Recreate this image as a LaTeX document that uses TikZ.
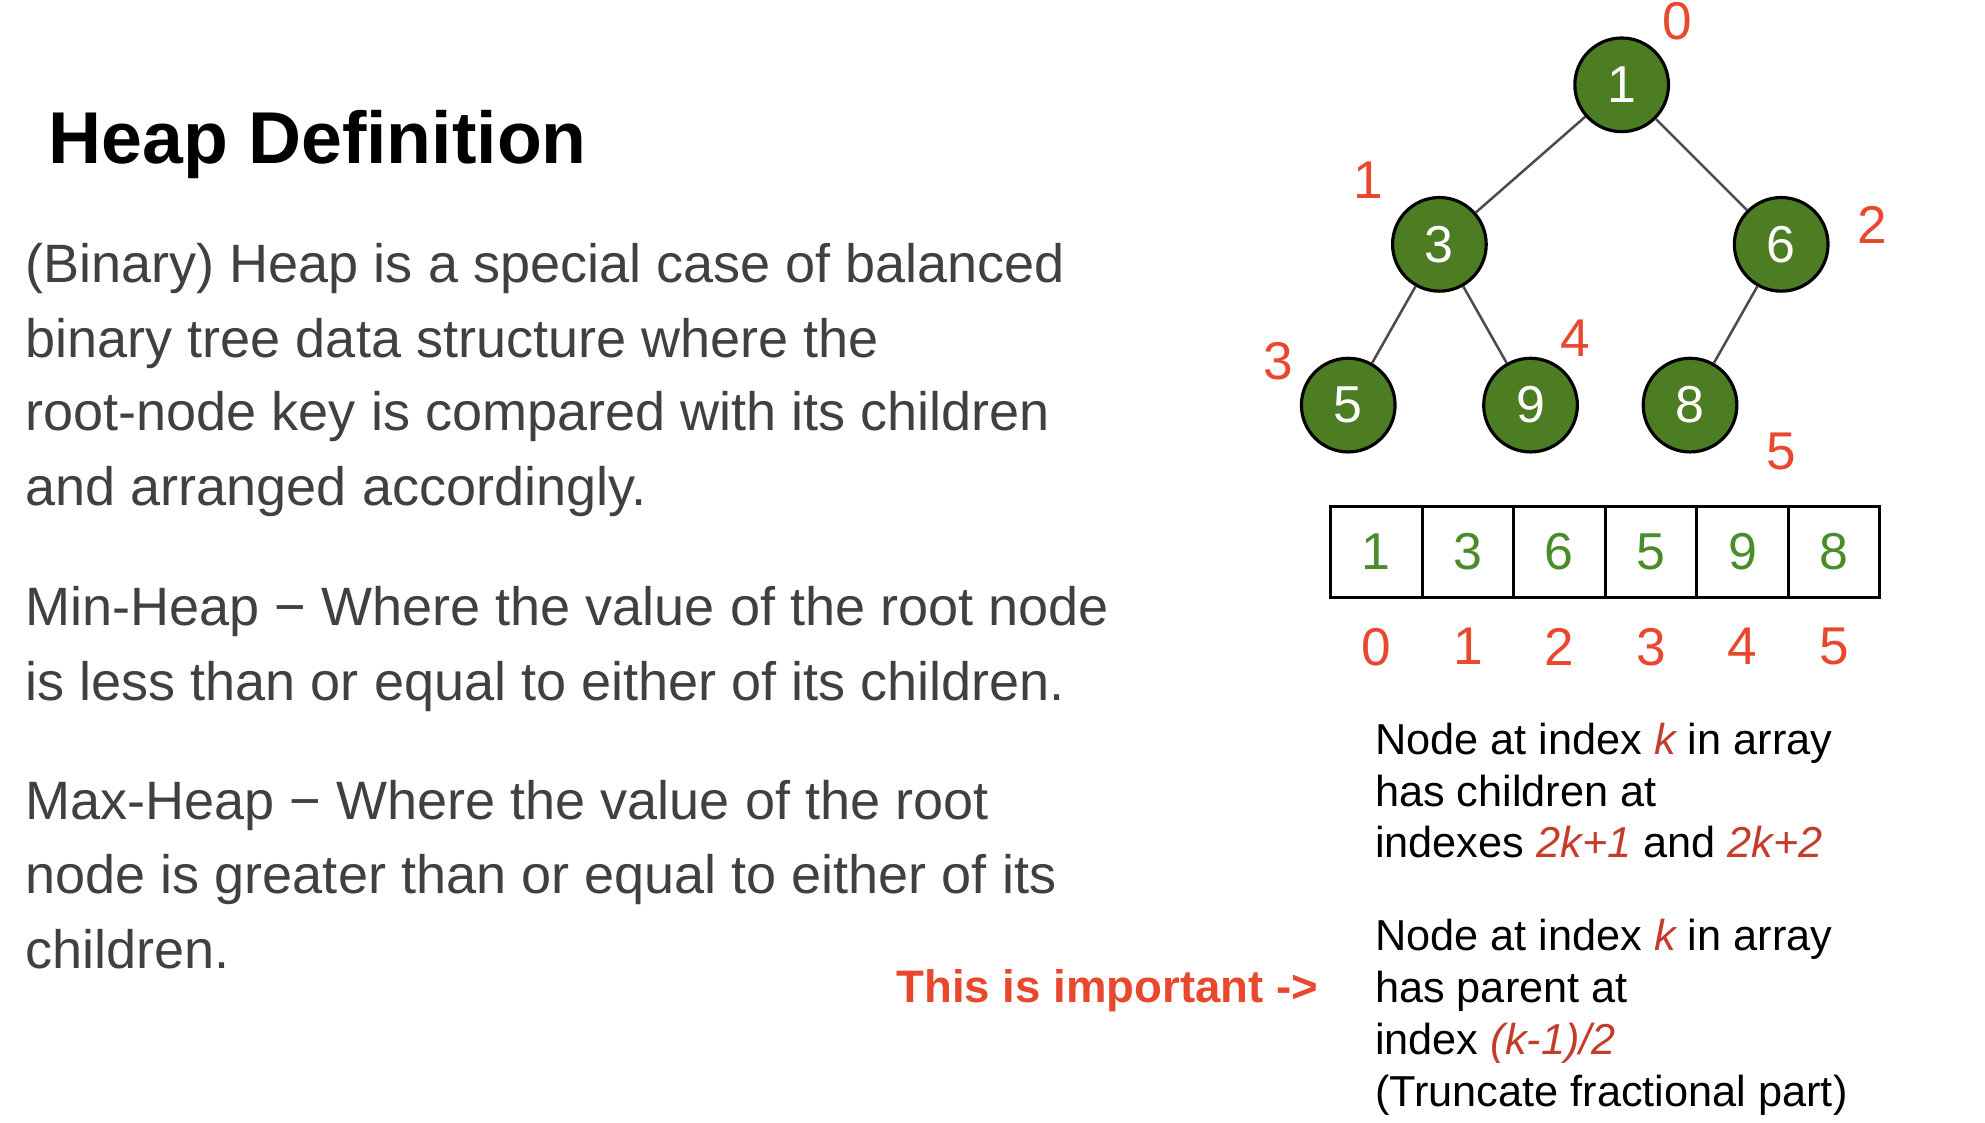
\documentclass[tikz,border=0pt]{standalone}
\usepackage{fontspec}
\setmainfont{Liberation Sans}
\usepackage{tikz}
\usetikzlibrary{positioning}
\definecolor{heapgreen}{RGB}{76,125,35}
\definecolor{cellgreen}{RGB}{74,140,42}
\definecolor{idxred}{RGB}{232,72,46}
\definecolor{formred}{RGB}{196,60,44}
\definecolor{bodygray}{RGB}{64,64,64}
\tikzstyle{heap} = [circle, draw=black, line width=2.5pt, fill=heapgreen, minimum size=74pt, inner sep=0pt, text=white, font=\fontsize{41}{41}\selectfont]
\tikzstyle{cell} = [rectangle, draw=black, line width=2.5pt, minimum width=72.3pt, minimum height=72pt, inner sep=0pt, outer sep=0pt, text=cellgreen, font=\fontsize{41}{41}\selectfont]
\tikzstyle{idx} = [text=idxred, inner sep=0pt, font=\fontsize{42}{42}\selectfont]
\tikzstyle{body} = [anchor=base west, inner sep=0pt, text=bodygray, font=\fontsize{42.7}{50}\selectfont]
\tikzstyle{note} = [anchor=base west, inner sep=0pt, font=\fontsize{34.2}{41}\selectfont]
\tikzset{edge/.style = {
    line width=2pt,
    draw=black!70,
  }
}
\newcommand{\fm}[1]{\textcolor{formred}{\itshape #1}}

\begin{document}
\begin{tikzpicture}[x=1pt, y=-1pt]
            \useasboundingbox (0,0) rectangle (1568,887);
            % title and definitions
            \node[anchor=base west, inner sep=0pt, font=\bfseries\fontsize{58}{58}\selectfont] (title) at (38,129) {Heap Definition};
            \node[body] (b1) at (20,223) {(Binary) Heap is a special case of balanced};
            \node[body] (b2) at (20,282) {binary tree data structure where the};
            \node[body] (b3) at (20,340) {root-node key is compared with its children};
            \node[body] (b4) at (20,399) {and arranged accordingly.};
            \node[body] (m1) at (20,494) {Min-Heap − Where the value of the root node};
            \node[body] (m2) at (20,553) {is less than or equal to either of its children.};
            \node[body] (x1) at (20,647) {Max-Heap − Where the value of the root};
            \node[body] (x2) at (20,706) {node is greater than or equal to either of its};
            \node[body] (x3) at (20,765) {children.};

            % tree
            \node[heap] (n0) at (1281,67) {1};
            \node[heap] (n1) at (1137,193) {3};
            \node[heap] (n2) at (1407,193) {6};
            \node[heap] (n3) at (1065,320) {5};
            \node[heap] (n4) at (1209,320) {9};
            \node[heap] (n5) at (1335,320) {8};

            \node[idx] (i0) at (1325,17) {0};
            \node[idx] (i1) at (1081,142) {1};
            \node[idx] (i2) at (1479,178) {2};
            \node[idx] (i3) at (1010,285) {3};
            \node[idx] (i4) at (1244,267) {4};
            \node[idx] (i5) at (1407,357) {5};

            %edges
            \draw[edge] (n0) to (n1);
            \draw[edge] (n0) to (n2);
            \draw[edge] (n1) to (n3);
            \draw[edge] (n1) to (n4);
            \draw[edge] (n2) to (n5);

            % array
            \node[cell] (c0) at (1087.2,436) {1};
            \node[cell, right=0pt of c0] (c1) {3};
            \node[cell, right=0pt of c1] (c2) {6};
            \node[cell, right=0pt of c2] (c3) {5};
            \node[cell, right=0pt of c3] (c4) {9};
            \node[cell, right=0pt of c4] (c5) {8};

            \node[idx, below=24pt of c0] (a0) {0};
            \node[idx, below=24pt of c1] (a1) {1};
            \node[idx, below=24pt of c2] (a2) {2};
            \node[idx, below=24pt of c3] (a3) {3};
            \node[idx, below=24pt of c4] (a4) {4};
            \node[idx, below=24pt of c5] (a5) {5};

            % index rules
            \node[note] (r1) at (1086,596) {Node at index \fm{k} in array};
            \node[note] (r2) at (1086,637) {has children at};
            \node[note] (r3) at (1086,677) {indexes \fm{2k+1} and \fm{2k+2}};
            \node[note] (p1) at (1086,751) {Node at index \fm{k} in array};
            \node[note] (p2) at (1086,792) {has parent at};
            \node[note] (p3) at (1086,833) {index \fm{(k-1)/2}};
            \node[note] (p4) at (1086,874) {(Truncate fractional part)};

            \node[note, text=idxred, font=\bfseries\fontsize{36}{41}\selectfont] (imp) at (708,792) {This is important ->};
          \end{tikzpicture}
\end{document}
